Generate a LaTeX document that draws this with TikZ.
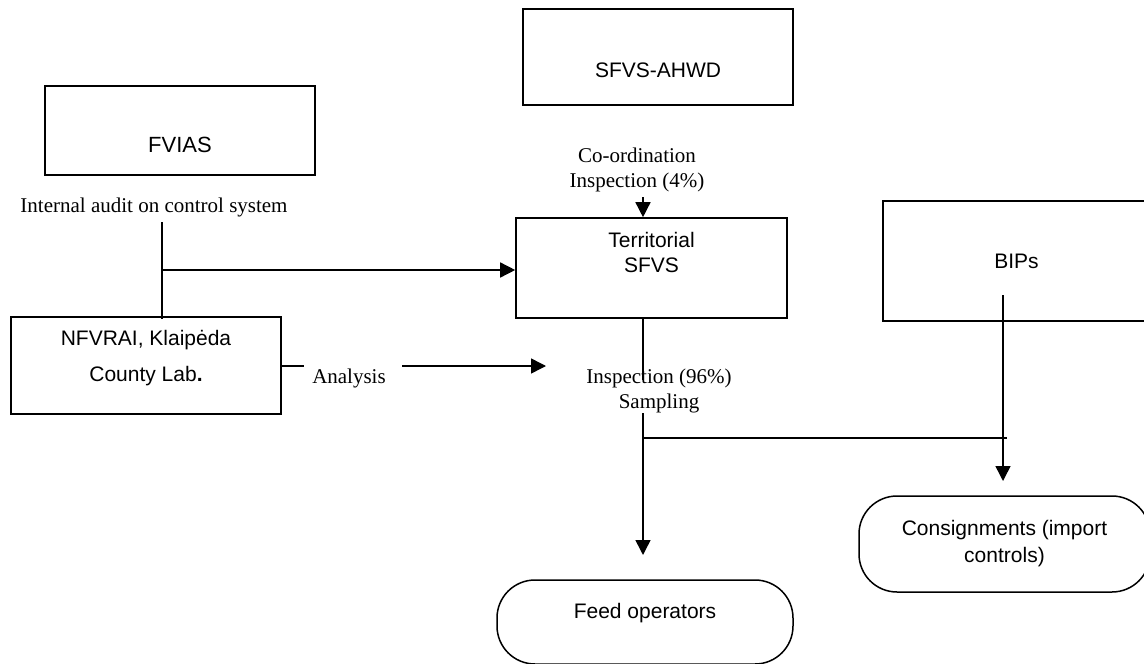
\documentclass[tikz,border=0pt]{standalone}
\usepackage{fontspec}
\setmainfont{Liberation Serif}
\newfontfamily\arialf{Liberation Sans}
\usetikzlibrary{arrows.meta}
\begin{document}
\begin{tikzpicture}[x=1pt,y=-1pt,
  box/.style={draw, line width=1.6pt, rectangle, inner sep=0pt},
  stadium/.style={draw, line width=1.5pt, rectangle, rounded corners=38pt, inner sep=0pt},
  btext/.style={font=\arialf\fontsize{21}{25}\selectfont, align=center, inner sep=0pt},
  lbl/.style={font=\fontsize{21}{25}\selectfont, align=center, inner sep=0pt},
  conn/.style={line width=1.5pt},
  arr/.style={line width=1.5pt, -{Triangle[length=15pt,width=15pt]}}]
\clip (0,0) rectangle (1144,664);
\fill[white] (0,0) rectangle (1144,664);
% boxes
\node[box, minimum width=270pt, minimum height=96pt,
  label={[btext, yshift=-13pt]center:SFVS-AHWD}] (ahwd) at (658,57) {};
\node[box, minimum width=270pt, minimum height=89pt,
  label={[btext, font=\arialf\fontsize{22}{25}\selectfont, yshift=-14.5pt]center:FVIAS}] (fvias) at (180,130.5) {};
\node[box, minimum width=271pt, minimum height=100pt,
  label={[btext, yshift=15.5pt]center:{Territorial\\SFVS}}] (terr) at (651.5,268) {};
\node[box, minimum width=270pt, minimum height=97pt,
  label={[btext, font=\arialf\fontsize{21}{36}\selectfont, yshift=7.5pt]center:{NFVRAI, Klaipėda\\County Lab\textbf{.}}}] (nfvrai) at (146,365.5) {};
\node[box, minimum width=267pt, minimum height=120pt,
  label={[btext]center:BIPs}] (bips) at (1016.5,261) {};
\node[stadium, minimum width=296pt, minimum height=84pt,
  label={[btext, yshift=9pt]center:Feed operators}] (feed) at (645,622) {};
\node[stadium, minimum width=291pt, minimum height=96pt,
  label={[btext, font=\arialf\fontsize{21}{27}\selectfont]center:{Consignments (import\\controls)}}] (cons) at (1004.5,544) {};
% edge labels
\node[lbl] (audit) at (154,207) {Internal audit on control system};
\node[lbl] (coord) at (637,170) {Co-ordination\\Inspection (4\%)};
\node[lbl] (anal) at (349,378) {Analysis};
\node[lbl] (insp) at (659,390.5) {Inspection (96\%)\\Sampling};
% connector points
\coordinate (auditfoot) at (162,222);
\coordinate (junc) at (162,270);
\coordinate (cd) at (643,197);
\coordinate (an1) at (304,366);
\coordinate (an2) at (402,366);
\coordinate (an3) at (546,366);
\coordinate (t1) at (643,380);
\coordinate (s1) at (643,413);
\coordinate (s2) at (643,438);
\coordinate (fa) at (643,555);
\coordinate (s3) at (1007,438);
\coordinate (b1) at (1003,295);
\coordinate (ba) at (1003,481);
% connectors
\draw[conn] (auditfoot) -- ([yshift=-3pt]auditfoot |- nfvrai.north);
\draw[arr] (junc) -- (junc -| terr.west);
\draw[arr] (cd) -- (cd |- terr.north);
\draw[conn] (an1 -| nfvrai.east) -- (an1);
\draw[arr] (an2) -- (an3);
\draw[conn] (t1 |- terr.south) -- (t1);
\draw[arr] (s1) -- (fa);
\draw[conn] (s2) -- (s3);
\draw[arr] (b1) -- (ba);
\end{tikzpicture}
\end{document}
